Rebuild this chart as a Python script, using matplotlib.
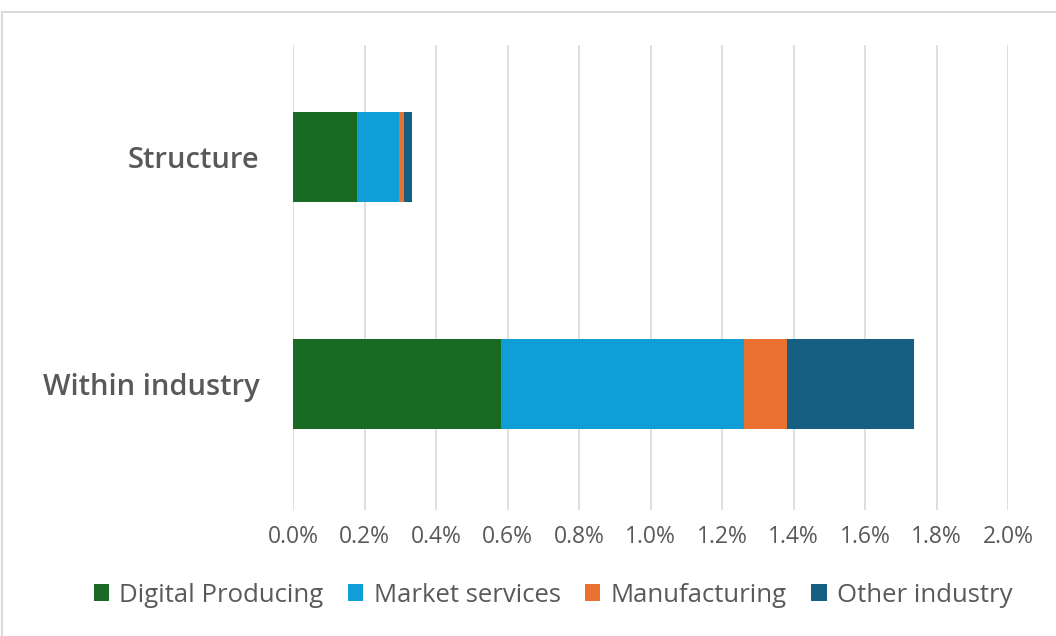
import matplotlib.pyplot as plt
from matplotlib.patches import Rectangle
from matplotlib.ticker import FuncFormatter

# Contribuciones por componente (puntos porcentuales)
categorias = ["Within industry", "Structure"]
digital_producing = [0.581, 0.178]
market_services = [0.681, 0.118]
manufacturing = [0.119, 0.014]
other_industry = [0.356, 0.024]

series = [
    ("Digital Producing", digital_producing, "#196B24"),
    ("Market services", market_services, "#0F9ED5"),
    ("Manufacturing", manufacturing, "#E97132"),
    ("Other industry", other_industry, "#156082"),
]

plt.rcParams['font.family'] = ['Open Sans', 'DejaVu Sans']
gris = "#595959"

fig = plt.figure(figsize=(10.56, 6.36), dpi=100)
ax = fig.add_axes([293/1056, 1 - 510/636, 715/1056, 465/636])

y = list(range(len(categorias)))
izq = [0.0] * len(categorias)
for nombre, valores, color in series:
    ax.barh(y, valores, left=izq, height=0.40, color=color, label=nombre, zorder=3)
    izq = [a + b for a, b in zip(izq, valores)]

ax.set_xlim(0, 2.0)
ax.set_ylim(-0.555, 1.493)
ax.set_xticks([i * 0.2 for i in range(11)])
ax.xaxis.set_major_formatter(FuncFormatter(lambda v, p: f"{v:.1f}%"))
ax.set_yticks(y)
ax.set_yticklabels(categorias, fontsize=21, color=gris, fontweight='semibold')
ax.tick_params(axis='x', labelsize=16.5, colors=gris, length=0, pad=11)
ax.tick_params(axis='y', length=0, pad=24)
ax.grid(axis='x', color="#d9d9d9", linewidth=1.2, zorder=0)
for s in ax.spines.values():
    s.set_visible(False)

# marco del area del grafico
fig.patches.append(Rectangle((2/1056, -0.1), 1.2, 1 - 12/636 + 0.1, transform=fig.transFigure,
                             fill=False, edgecolor="#d9d9d9", linewidth=1.5, clip_on=False))

fig.legend(loc='center', bbox_to_anchor=(553/1056, 1 - 595/636), ncol=4, frameon=False,
           fontsize=18.5, handlelength=0.6, handleheight=0.6, handletextpad=0.4,
           columnspacing=0.95, labelcolor=gris)

fig.savefig("out.png", dpi=100)
